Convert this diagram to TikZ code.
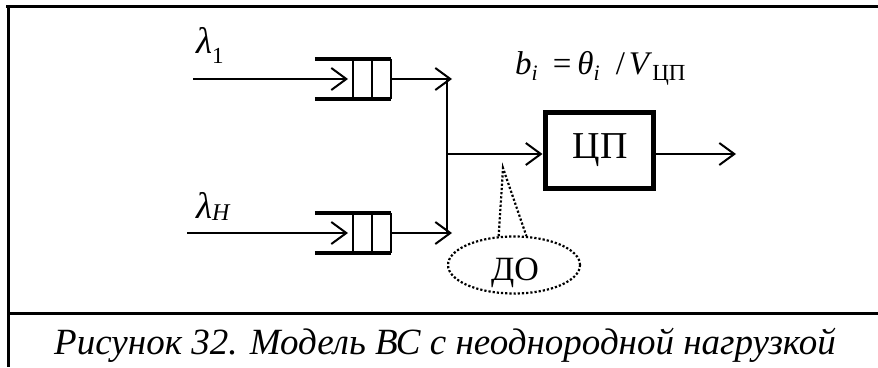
\documentclass[tikz,border=0pt]{standalone}
\usepackage{fontspec}
\setmainfont{Liberation Serif}
\usetikzlibrary{arrows.meta,shapes.geometric}

\tikzset{
  frame/.style={line width=3pt},
  flow/.style={line width=2pt},
  arr/.style={flow,-{Straight Barb[length=15pt,width=22pt,line width=2pt]}},
  queue/.style={rectangle,minimum width=76pt,minimum height=40pt,inner sep=0pt},
  qwall/.style={line width=4pt},
  qcell/.style={line width=1.6pt},
  cpubox/.style={draw,line width=5pt,minimum width=108pt,minimum height=76pt},
  callout/.style={draw,dotted,line width=2.2pt,ellipse,minimum width=132pt,
    minimum height=57pt,inner sep=0pt},
  lbl/.style={inner sep=0pt,anchor=base west,font=\fontsize{37}{37}\selectfont\itshape},
}

\begin{document}
\begin{tikzpicture}[x=1pt,y=-1pt]
\useasboundingbox (0,0) rectangle (878,367);

% table frame
\draw[frame] (6,6) -- (878,6);
\draw[frame] (8,6) -- (8,367);
\draw[frame] (8,313) -- (878,313);

% queues
\node[queue] (q1) at (353,79) {};
\node[queue] (q2) at (353,233) {};
\foreach \q in {q1,q2}{
  \draw[qwall] (\q.north west) -- (\q.north east);
  \draw[qwall] (\q.south west) -- (\q.south east);
  \draw[qcell] (\q.north) -- (\q.south);
  \draw[qcell] ([xshift=19pt]\q.north) -- ([xshift=19pt]\q.south);
  \draw[qcell] (\q.north east) -- (\q.south east);
}

% input flows
\coordinate (in1) at (193,79);
\coordinate (in2) at (187,233);
\node[lbl] (l1) at (196,53) {λ\raisebox{-10pt}{\upshape\fontsize{23}{23}\selectfont 1}};
\node[lbl] (l2) at (196,218) {λ\raisebox{-2pt}{\fontsize{24}{24}\selectfont H}};
\draw[arr] (in1) -- ([xshift=-5pt]q1.center);
\draw[arr] (in2) -- ([xshift=-5pt]q2.center);

% merge
\coordinate (j1) at (447,79);
\coordinate (j2) at (447,233);
\coordinate (jm) at (447,154);
\draw[arr] (q1.east) -- ([xshift=5pt]j1);
\draw[arr] (q2.east) -- ([xshift=5pt]j2);
\draw[flow] ([yshift=-1pt]j1) -- ([yshift=1pt]j2);

% processor
\node[cpubox] (cpu) at (599,150) {};
\node[inner sep=0pt,anchor=base,font=\fontsize{38}{38}\selectfont] (cput) at (600,158) {ЦП};
\coordinate (out) at (736,154);
\draw[arr] (jm) -- (cpu.west |- jm);
\draw[arr] (cpu.east |- out) -- (out);
\node[inner sep=0pt,anchor=base west,font=\fontsize{33}{33}\selectfont] (f) at (515,74)
  {\textit{b}\raisebox{-6pt}{\fontsize{22}{22}\selectfont\itshape i}\hspace{15pt}=\hspace{6pt}\textit{θ}\raisebox{-6pt}{\fontsize{22}{22}\selectfont\itshape i}\hspace{16pt}/\hspace{4pt}\textit{V}\raisebox{-6pt}{\fontsize{23}{23}\selectfont ЦП}};

% dispatcher callout
\node[callout] (do) at (514,265) {};
\node[inner sep=0pt,anchor=base,font=\fontsize{34}{34}\selectfont] (dot) at (515,280) {ДО};
\coordinate (tip) at (503,168);
\draw[dotted,line width=2.2pt] (do.118) -- (tip) -- (do.67);

% caption
\node[inner sep=0pt,anchor=base,font=\fontsize{37}{37}\selectfont\itshape] (cap) at (445,354)
  {Рисунок 32. Модель ВС с неоднородной нагрузкой};
\end{tikzpicture}
\end{document}
